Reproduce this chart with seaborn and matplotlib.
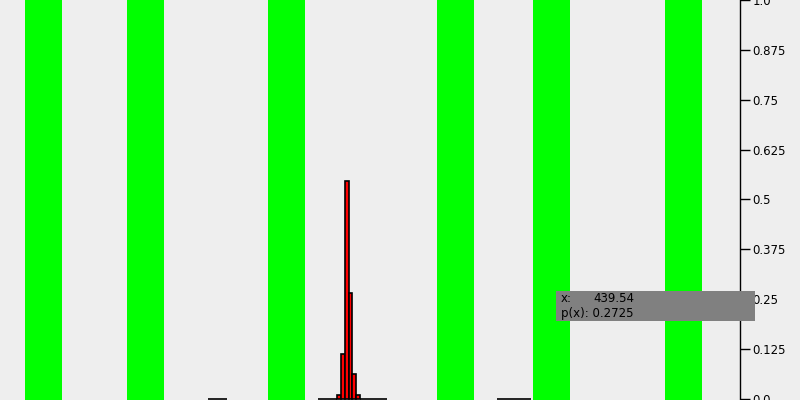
import numpy as np
import pandas as pd
import matplotlib
matplotlib.use("Agg")
import matplotlib.pyplot as plt
import matplotlib.patches as mpatches
import seaborn as sns

# Data (x in arbitrary units across the plot width 0..740)
bin_width = 3.83
main_start = 318.0
main_values = [0, 0, 0, 0, 0, 0.0085, 0.1125, 0.545, 0.265, 0.0625, 0.0085,
               0, 0, 0, 0, 0, 0, 0]
left_start = 208.0
left_values = [0, 0, 0, 0, 0]
right_start = 497.0
right_values = [0, 0, 0, 0, 0, 0, 0, 0, 0]

band_starts = [25, 127, 268, 437, 533, 665]
band_width = 37

y_ticks = [0, 0.125, 0.25, 0.375, 0.5, 0.625, 0.75, 0.875, 1.0]
y_labels = ["0.0", "0.125", "0.25", "0.375", "0.5", "0.625", "0.75", "0.875", "1.0"]

tip_x = "439.54"
tip_p = "0.2725"

sns.set_style("white")
plt.rcParams["font.family"] = ["DejaVu Sans"]

fig = plt.figure(figsize=(8, 4), dpi=100)
fig.patch.set_facecolor("#eeeeee")
ax = fig.add_axes([0, 0, 740 / 800, 1])
ax.set_facecolor("#eeeeee")

for b in band_starts:
    ax.axvspan(b, b + band_width, color="#00ff00", lw=0, zorder=0)


def draw_hist(start, values):
    n = len(values)
    end = start + bin_width * n
    centers = start + bin_width * (np.arange(n) + 0.5)
    df = pd.DataFrame({"x": centers, "w": values})
    sns.histplot(data=df, x="x", weights="w", bins=n, binrange=(start, end),
                 stat="count", color="#ff0000", alpha=1, edgecolor="black",
                 linewidth=1.2, ax=ax, zorder=2)


draw_hist(main_start, main_values)
draw_hist(left_start, left_values)
draw_hist(right_start, right_values)

ax.set_xlim(0, 740)
ax.set_ylim(-0.003, 1)
ax.set_xlabel("")
ax.set_ylabel("")
ax.set_xticks([])
for s in ["top", "left", "bottom"]:
    ax.spines[s].set_visible(False)
ax.spines["right"].set_visible(True)
ax.spines["right"].set_color("black")
ax.spines["right"].set_linewidth(1.0)
ax.yaxis.tick_right()
ax.set_yticks(y_ticks)
ax.set_yticklabels(y_labels)
ax.tick_params(axis="y", direction="out", length=7, width=1.0, pad=2,
               labelsize=8.5, colors="black", right=True, left=False)

# tooltip box
fig.add_artist(mpatches.Rectangle((556 / 800, (400 - 321) / 400), 199 / 800, 30 / 400,
                                  transform=fig.transFigure, facecolor="#808080",
                                  edgecolor="none", zorder=10))
fig.text(561 / 800, (400 - 298) / 400, "x:", fontsize=8.5, va="center",
         color="black", zorder=11)
fig.text(593 / 800, (400 - 298) / 400, tip_x, fontsize=8.5, va="center",
         color="black", zorder=11)
fig.text(561 / 800, (400 - 313) / 400, "p(x): " + tip_p, fontsize=8.5, va="center",
         color="black", zorder=11)

fig.savefig("out.png", dpi=100, facecolor=fig.get_facecolor())
